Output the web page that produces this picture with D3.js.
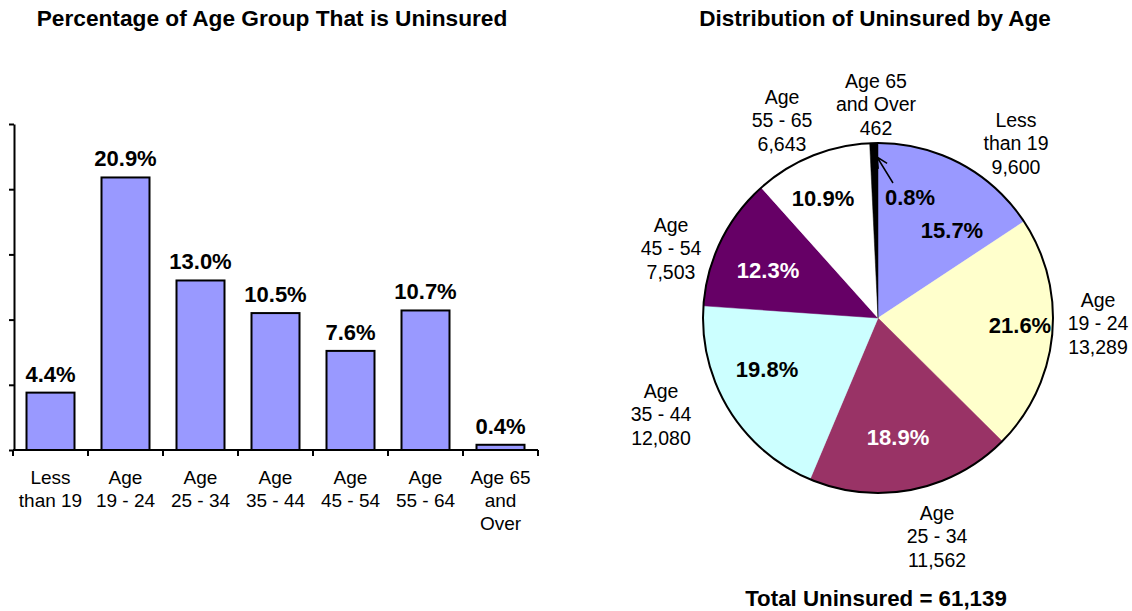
<!DOCTYPE html>
<html>
<head>
<meta charset="utf-8">
<script src="https://cdn.jsdelivr.net/npm/d3@7"></script>
<style>
  html, body { margin: 0; padding: 0; background: #fff; }
  svg { display: block; font-family: "Liberation Sans", Arial, sans-serif; }
</style>
</head>
<body>
<svg id="chart" width="1132" height="611"></svg>
<script>
// ---- Bar chart data: share of each age group that is uninsured ----
const barCategories = [
  ["Less", "than 19"],
  ["Age", "19 - 24"],
  ["Age", "25 - 34"],
  ["Age", "35 - 44"],
  ["Age", "45 - 54"],
  ["Age", "55 - 64"],
  ["Age 65", "and", "Over"]
];
const barValues = [4.4, 20.9, 13.0, 10.5, 7.6, 10.7, 0.4];
const barTicks = [0, 5, 10, 15, 20, 25];

// ---- Pie data: uninsured counts by age ----
const pieNames = [
  ["Less", "than 19"],
  ["Age", "19 - 24"],
  ["Age", "25 - 34"],
  ["Age", "35 - 44"],
  ["Age", "45 - 54"],
  ["Age", "55 - 65"],
  ["Age 65", "and Over"]
];
const pieCounts = [9600, 13289, 11562, 12080, 7503, 6643, 462];
const piePercents = [15.7, 21.6, 18.9, 19.8, 12.3, 10.9, 0.8];
const pieColors = ["#9999FF", "#FFFFCC", "#993366", "#CCFFFF", "#660066", "#FFFFFF", "#000000"];
const pieTextColors = ["#000", "#000", "#fff", "#000", "#fff", "#000", "#000"];

// Label placement around the pie, relative to its centre
const pctLabelPos = [[74, -88], [142, 7], [20, 119], [-111, 51], [-110, -48], [-55, -120], [32, -121]];
const nameLabelPos = [[138, -191], [220, -11], [59, 202], [-217, 80], [-207, -86], [-96, -214], [-2, -230]];

const svg = d3.select("#chart");
const fmt = d3.format(",");

// ================= Bar chart =================
const x = d3.scaleBand()
  .domain(d3.range(barValues.length))
  .range([13, 538])
  .paddingInner(0.36)
  .paddingOuter(0.18);
const y = d3.scaleLinear().domain([0, 25]).range([450, 124]);

svg.append("text")
  .attr("x", 272).attr("y", 26)
  .attr("text-anchor", "middle")
  .attr("font-size", 22.7).attr("font-weight", "bold")
  .text("Percentage of Age Group That is Uninsured");

// Y axis: ticks only, no labels
const yAxis = svg.append("g")
  .attr("transform", "translate(14,0)")
  .call(d3.axisLeft(y).tickValues(barTicks).tickSize(5).tickSizeOuter(0).tickFormat(""));
yAxis.selectAll("path, line").attr("stroke", "#000").attr("stroke-width", 2);

// Bars
svg.append("g").selectAll("rect")
  .data(barValues)
  .join("rect")
  .attr("x", (d, i) => x(i))
  .attr("y", d => y(d))
  .attr("width", x.bandwidth())
  .attr("height", d => y(0) - y(d))
  .attr("fill", "#9999FF")
  .attr("stroke", "#000")
  .attr("stroke-width", 2);

// Value labels above bars
svg.append("g").selectAll("text")
  .data(barValues)
  .join("text")
  .attr("x", (d, i) => x(i) + x.bandwidth() / 2)
  .attr("y", d => y(d) - 11)
  .attr("text-anchor", "middle")
  .attr("font-size", 22).attr("font-weight", "bold")
  .text(d => d.toFixed(1) + "%");

// X axis line with category boundary ticks
const xAxis = svg.append("g");
xAxis.append("line")
  .attr("x1", x.range()[0]).attr("x2", x.range()[1])
  .attr("y1", y(0)).attr("y2", y(0))
  .attr("stroke", "#000").attr("stroke-width", 2);
const step = x.step();
const bounds = d3.range(barValues.length + 1).map(i => x.range()[0] + i * step);
xAxis.selectAll("line.tick")
  .data(bounds)
  .join("line")
  .attr("class", "tick")
  .attr("x1", d => d).attr("x2", d => d)
  .attr("y1", y(0)).attr("y2", y(0) + 6)
  .attr("stroke", "#000").attr("stroke-width", 2);

// Category labels
svg.append("g").selectAll("text")
  .data(barCategories)
  .join("text")
  .attr("text-anchor", "middle")
  .attr("font-size", 19)
  .each(function(lines, i) {
    const t = d3.select(this);
    const cxBar = x(i) + x.bandwidth() / 2;
    lines.forEach((s, k) => {
      t.append("tspan")
        .attr("x", cxBar)
        .attr("y", 484 + k * 23)
        .text(s);
    });
  });

// ================= Pie chart =================
const cx = 878, cy = 318, r = 175;

svg.append("text")
  .attr("x", 875).attr("y", 26)
  .attr("text-anchor", "middle")
  .attr("font-size", 22.5).attr("font-weight", "bold")
  .text("Distribution of Uninsured by Age");

const pie = d3.pie().sort(null).value(d => d)(pieCounts);
const arc = d3.arc().innerRadius(0).outerRadius(r);

const pg = svg.append("g").attr("transform", `translate(${cx},${cy})`);
pg.selectAll("path.slice")
  .data(pie)
  .join("path")
  .attr("class", "slice")
  .attr("d", arc)
  .attr("fill", (d, i) => pieColors[i])
  .attr("stroke", (d, i) => pieColors[i])
  .attr("stroke-width", 0.5);

// Outline of the pie
pg.append("circle")
  .attr("r", r)
  .attr("fill", "none")
  .attr("stroke", "#000")
  .attr("stroke-width", 2);

// Percent labels inside slices
pg.selectAll("text.pct")
  .data(piePercents)
  .join("text")
  .attr("class", "pct")
  .attr("x", (d, i) => pctLabelPos[i][0])
  .attr("y", (d, i) => pctLabelPos[i][1] + 8)
  .attr("text-anchor", "middle")
  .attr("font-size", 22).attr("font-weight", "bold")
  .attr("fill", (d, i) => pieTextColors[i])
  .text(d => d.toFixed(1) + "%");

// Group names with counts outside the pie
pg.selectAll("text.name")
  .data(pieNames)
  .join("text")
  .attr("class", "name")
  .attr("text-anchor", "middle")
  .attr("font-size", 19.5)
  .each(function(lines, i) {
    const t = d3.select(this);
    const [lx, ly] = nameLabelPos[i];
    lines.concat([fmt(pieCounts[i])]).forEach((s, k) => {
      t.append("tspan")
        .attr("x", lx)
        .attr("y", ly + k * 23.3)
        .text(s);
    });
  });

// Leader arrow from the 0.8% label to the smallest slice
const tip = [-1, -161], tail = [15, -135];
const ang = Math.atan2(tail[1] - tip[1], tail[0] - tip[0]);
const barb = 12, spread = 0.45;
const arrow = d3.path();
arrow.moveTo(tail[0], tail[1]);
arrow.lineTo(tip[0], tip[1]);
arrow.moveTo(tip[0] + barb * Math.cos(ang - spread), tip[1] + barb * Math.sin(ang - spread));
arrow.lineTo(tip[0], tip[1]);
arrow.lineTo(tip[0] + barb * Math.cos(ang + spread), tip[1] + barb * Math.sin(ang + spread));
pg.append("path")
  .attr("d", arrow.toString())
  .attr("fill", "none")
  .attr("stroke", "#000")
  .attr("stroke-width", 1.5);

// Total
svg.append("text")
  .attr("x", 876).attr("y", 606)
  .attr("text-anchor", "middle")
  .attr("font-size", 22.3).attr("font-weight", "bold")
  .text("Total Uninsured = " + fmt(d3.sum(pieCounts)));
</script>
</body>
</html>
